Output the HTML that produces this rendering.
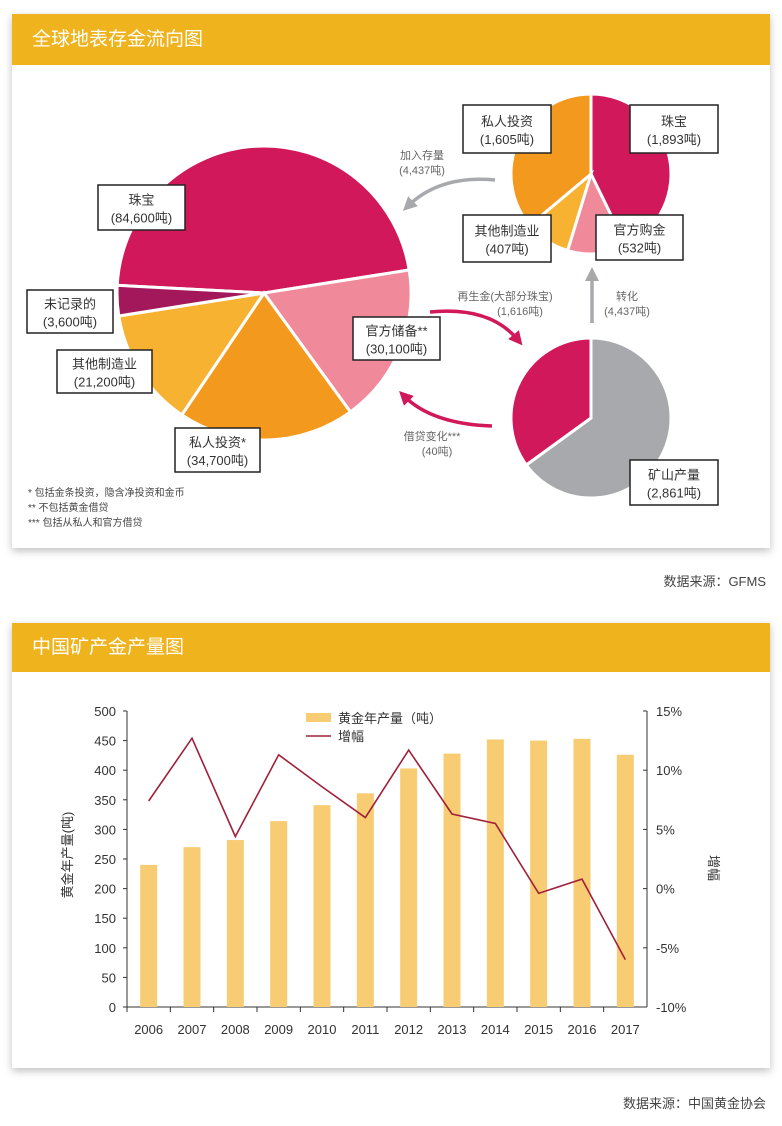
<!DOCTYPE html>
<html><head><meta charset="utf-8"><style>
body{margin:0;width:782px;height:1126px;background:#fff;font-family:"Liberation Sans","Noto Sans CJK SC",sans-serif;position:relative;overflow:hidden}
.card{position:absolute;left:12px;width:758px;background:#fff;box-shadow:0 3px 8px rgba(0,0,0,0.25)}
.hd{height:51px;background:#efb31d;color:#fff;font-size:19px;line-height:51px;padding-left:20px}
.src{position:absolute;right:16px;font-size:13px;color:#444}
svg{position:absolute;left:0;top:0}
</style></head><body>
<div class="card" style="top:14px;height:534px"><div class="hd">全球地表存金流向图</div></div>
<div class="src" style="top:571px">数据来源：GFMS</div>
<div class="card" style="top:623px;height:445px"><div class="hd" style="height:49px;line-height:49px">中国矿产金产量图</div></div>
<div class="src" style="top:1093px">数据来源：中国黄金协会</div>

<svg width="782" height="1126" id="s" font-family="Liberation Sans, Noto Sans CJK SC, sans-serif">
<defs>
<marker id="ag" markerWidth="4" markerHeight="4" refX="2" refY="2" orient="auto"><path d="M0,0 L4,2 L0,4 z" fill="#a7a9ac"/></marker>
<marker id="ar" markerWidth="4" markerHeight="4" refX="2" refY="2" orient="auto"><path d="M0,0 L4,2 L0,4 z" fill="#d0185a"/></marker>
</defs>
<g id="pies"></g>
<path d="M495,180 Q440,175 408,206" stroke="#a7a9ac" stroke-width="3.5" fill="none" marker-end="url(#ag)"/>
<path d="M592,323 L592,274" stroke="#a7a9ac" stroke-width="3.5" fill="none" marker-end="url(#ag)"/>
<path d="M430,312 Q490,306 518,340" stroke="#d0185a" stroke-width="3.5" fill="none" marker-end="url(#ar)"/>
<path d="M492,426 Q432,424 404,396" stroke="#d0185a" stroke-width="3.5" fill="none" marker-end="url(#ar)"/>
<g font-size="11" fill="#666" text-anchor="middle">
<text x="422" y="159">加入存量</text><text x="422" y="174">(4,437吨)</text>
<text x="505" y="300">再生金(大部分珠宝)</text><text x="520" y="315">(1,616吨)</text>
<text x="627" y="300">转化</text><text x="627" y="315">(4,437吨)</text>
<text x="432" y="440">借贷变化***</text><text x="437" y="455">(40吨)</text>
</g>
<g id="boxes" font-size="13" fill="#333" text-anchor="middle"></g>
<g font-size="10" fill="#444">
<text x="28" y="496">* 包括金条投资，隐含净投资和金币</text>
<text x="28" y="511">** 不包括黄金借贷</text>
<text x="28" y="526">*** 包括从私人和官方借贷</text>
</g>
<g id="chart"></g>
</svg>
<script>
var NS="http://www.w3.org/2000/svg",s=document.getElementById('s');
function el(p,t,a,txt){var e=document.createElementNS(NS,t);for(var k in a)e.setAttribute(k,a[k]);if(txt!=null)e.textContent=txt;p.appendChild(e);return e;}
function slice(g,cx,cy,r,a0,a1,c){var R=Math.PI/180,x0=cx+r*Math.cos(a0*R),y0=cy+r*Math.sin(a0*R),x1=cx+r*Math.cos(a1*R),y1=cy+r*Math.sin(a1*R);
el(g,'path',{d:'M'+cx+','+cy+'L'+x0+','+y0+'A'+r+','+r+' 0 '+((a1-a0)>180?1:0)+' 1 '+x1+','+y1+'Z',fill:c,stroke:'#fff','stroke-width':3});}
var P=document.getElementById('pies');
slice(P,264,293,147,183,351,'#d0185a');slice(P,264,293,147,-9,54,'#f0899a');slice(P,264,293,147,54,124,'#f39a1e');slice(P,264,293,147,124,171,'#f8b232');slice(P,264,293,147,171,183,'#a3185a');
slice(P,591,174,80,-90,64,'#d0185a');slice(P,591,174,80,64,107,'#f0899a');slice(P,591,174,80,107,140,'#f8b232');slice(P,591,174,80,140,270,'#f39a1e');
slice(P,591,418,80,-90,144,'#a7a9ac');slice(P,591,418,80,144,270,'#d0185a');
var B=document.getElementById('boxes');
[[98,185,87,45,'珠宝','(84,600吨)'],[27,290,86,43,'未记录的','(3,600吨)'],[57,350,95,43,'其他制造业','(21,200吨)'],[175,428,85,44,'私人投资*','(34,700吨)'],[353,317,87,43,'官方储备**','(30,100吨)'],
[463,105,88,48,'私人投资','(1,605吨)'],[630,105,88,48,'珠宝','(1,893吨)'],[463,215,88,47,'其他制造业','(407吨)'],[596,215,87,45,'官方购金','(532吨)'],[630,460,88,45,'矿山产量','(2,861吨)']].forEach(function(b){
el(B,'rect',{x:b[0],y:b[1],width:b[2],height:b[3],fill:'#fff',stroke:'#222','stroke-width':1.5});
el(B,'text',{x:b[0]+b[2]/2,y:b[1]+b[3]/2-3},b[4]);el(B,'text',{x:b[0]+b[2]/2,y:b[1]+b[3]/2+15},b[5]);});
var C=document.getElementById('chart');
var y0=1007,yt=711,xl=127,xr=647;
el(C,'line',{x1:xl,y1:yt,x2:xl,y2:y0,stroke:'#333','stroke-width':1});
el(C,'line',{x1:xr,y1:yt,x2:xr,y2:y0,stroke:'#333','stroke-width':1});
el(C,'line',{x1:xl,y1:y0,x2:xr,y2:y0,stroke:'#333','stroke-width':1});
for(var i=0;i<=10;i++){var y=y0-(y0-yt)*i/10;el(C,'line',{x1:xl-4,y1:y,x2:xl,y2:y,stroke:'#333'});el(C,'text',{x:116,y:y+5,'font-size':13,fill:'#333','text-anchor':'end'},String(i*50));}
['15%','10%','5%','0%','-5%','-10%'].forEach(function(t,i){var y=yt+(y0-yt)*i/5;el(C,'line',{x1:xr-4,y1:y,x2:xr,y2:y,stroke:'#333'});el(C,'text',{x:656,y:y+5,'font-size':13,fill:'#333'},t);});
var vals=[240,270,282,314,341,361,403,428,452,450,453,426],pct=[7.4,12.7,4.4,11.3,8.6,6.0,11.7,6.3,5.5,-0.4,0.8,-6.0];
var sp=(xr-xl)/12,pts=[];
vals.forEach(function(v,i){var cx=xl+sp*(i+0.5),h=v/500*(y0-yt);
el(C,'rect',{x:cx-8.5,y:y0-h,width:17,height:h,fill:'#f8cc72'});
el(C,'line',{x1:xl+sp*i,y1:y0,x2:xl+sp*i,y2:y0+5,stroke:'#333'});
el(C,'text',{x:cx,y:1034,'font-size':13,fill:'#333','text-anchor':'middle'},String(2006+i));
pts.push(cx+','+(888.6-pct[i]*11.84));});
el(C,'polyline',{points:pts.join(' '),fill:'none',stroke:'#a0203a','stroke-width':1.6});
el(C,'rect',{x:306,y:713,width:25,height:9,fill:'#f8cc72'});
el(C,'text',{x:338,y:723,'font-size':13,fill:'#333'},'黄金年产量（吨）');
el(C,'line',{x1:306,y1:736,x2:331,y2:736,stroke:'#a0203a','stroke-width':1.6});
el(C,'text',{x:338,y:741,'font-size':13,fill:'#333'},'增幅');
el(C,'text',{x:0,y:0,'font-size':13,fill:'#333','text-anchor':'middle',transform:'translate(72,855) rotate(-90)'},'黄金年产量(吨)');
el(C,'text',{x:0,y:0,'font-size':13,fill:'#333','text-anchor':'middle',transform:'translate(709,868) rotate(90)'},'增幅');
</script>
</body></html>
